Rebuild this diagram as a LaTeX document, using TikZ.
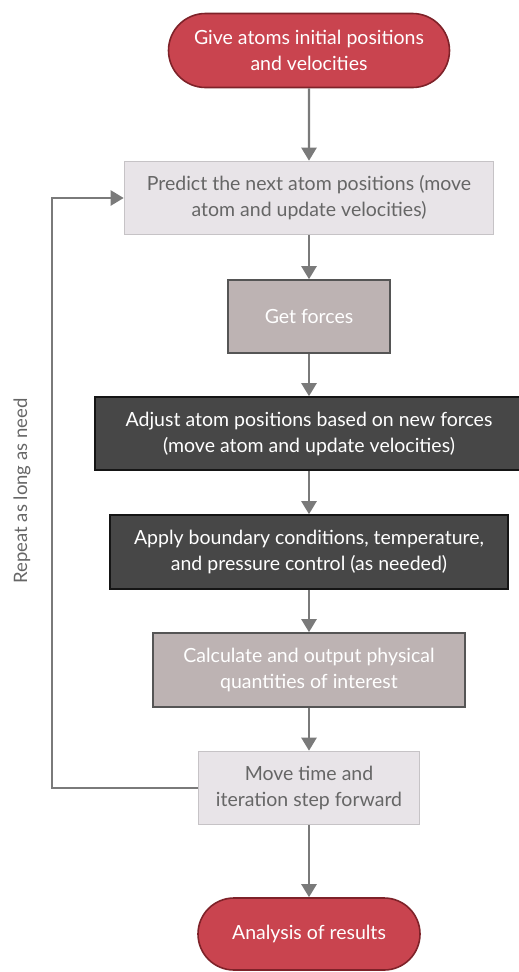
\documentclass[tikz,border=0pt]{standalone}
\usepackage{fontspec}
\setmainfont{Lato}
\usetikzlibrary{shapes.misc,arrows.meta}

\definecolor{startred}{HTML}{C9444F}
\definecolor{startedge}{HTML}{7E2229}
\definecolor{lightfill}{HTML}{E8E4E8}
\definecolor{lightedge}{HTML}{C6C3C6}
\definecolor{taupefill}{HTML}{BDB3B3}
\definecolor{taupeedge}{HTML}{555555}
\definecolor{darkfill}{HTML}{474747}
\definecolor{darkedge}{HTML}{151515}
\definecolor{flowgray}{HTML}{7A7A7A}
\definecolor{lighttext}{HTML}{666666}

\begin{document}
\begin{tikzpicture}[x=1pt,y=-1pt,
  every node/.style={font=\fontsize{19.5}{26}\selectfont,align=center,inner sep=0pt},
  terminal/.style={rounded rectangle,draw=startedge,fill=startred,line width=1.6pt,text=white},
  lightbox/.style={rectangle,draw=lightedge,fill=lightfill,line width=1.6pt,text=lighttext},
  taupebox/.style={rectangle,draw=taupeedge,fill=taupefill,line width=1.6pt,text=white},
  darkbox/.style={rectangle,draw=darkedge,fill=darkfill,line width=1.6pt,text=white},
  flow/.style={draw=flowgray,line width=2.4pt,-{Triangle[width=15pt,length=13pt]}}]
\useasboundingbox (0,0) rectangle (519,972);

% start and end
\node[terminal,minimum width=281pt,minimum height=74pt] (start) at (309,50.5)
  {Give atoms initial positions\\and velocities};
\node[terminal,minimum width=222pt,minimum height=72pt] (finish) at (309,934)
  {Analysis of results};

% steps of the loop
\node[lightbox,minimum width=369pt,minimum height=73pt] (predict) at (309,198)
  {Predict the next atom positions (move\\atom and update velocities)};
\node[taupebox,minimum width=162pt,minimum height=73pt] (forces) at (309,316.5)
  {Get forces};
\node[darkbox,minimum width=428pt,minimum height=73pt] (adjust) at (309,433.5)
  {Adjust atom positions based on new forces\\(move atom and update velocities)};
\node[darkbox,minimum width=398pt,minimum height=74pt] (boundary) at (309,552)
  {Apply boundary conditions, temperature,\\and pressure control (as needed)};
\node[taupebox,minimum width=312pt,minimum height=74pt] (calc) at (309,670)
  {Calculate and output physical\\quantities of interest};
\node[lightbox,minimum width=221pt,minimum height=73pt] (step) at (309,788)
  {Move time and\\iteration step forward};

% arrows down the chain
\draw[flow] (start) -- (predict);
\draw[flow] (predict) -- (forces);
\draw[flow] (forces) -- (adjust);
\draw[flow] (adjust) -- (boundary);
\draw[flow] (boundary) -- (calc);
\draw[flow] (calc) -- (step);
\draw[flow] (step) -- (finish);

% loop back
\coordinate (loopcorner) at (52,788);
\draw[flow] (step.west) -- (loopcorner) |- (predict.west);
\node[rotate=90,text=lighttext,font=\fontsize{18.5}{22}\selectfont] (repeat) at (22,491)
  {Repeat as long as need};
\end{tikzpicture}
\end{document}
